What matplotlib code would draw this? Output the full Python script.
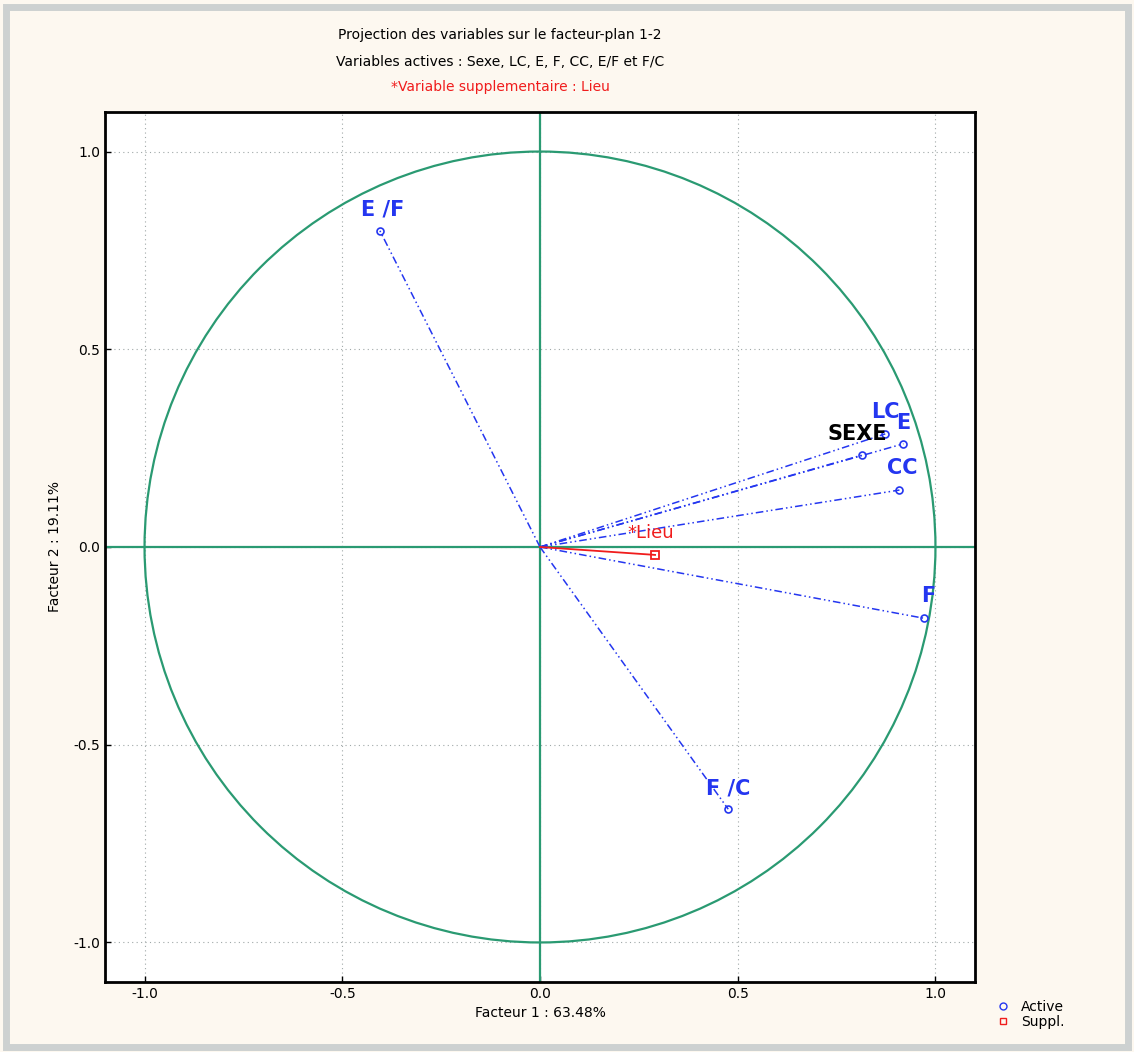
import numpy as np
import matplotlib.pyplot as plt
from matplotlib.patches import Circle, Rectangle

# Coordinates of the variables on factors 1 and 2
names = ['E /F', 'LC', 'E', 'SEXE', 'CC', 'F', 'F /C']
f1 = [-0.405, 0.873, 0.919, 0.813, 0.909, 0.970, 0.476]
f2 = [0.800, 0.286, 0.261, 0.232, 0.144, -0.180, -0.663]
colors = ['#2436f0', '#2436f0', '#2436f0', 'black', '#2436f0', '#2436f0', '#2436f0']
# label offsets in points
offsets = [(2, 15), (0, 16), (0, 15), (-3, 15), (2, 16), (3, 16), (0, 15)]

# Supplementary variable
supp_name = 'Lieu'
supp_f1 = [0.291]
supp_f2 = [-0.020]

blue = '#2436f0'
red = '#f01c1c'
green = '#2a9a72'

fig = plt.figure(figsize=(11.34, 10.52), dpi=100)
fig.patch.set_facecolor('#fdf8f0')
fig.patches.append(Rectangle((0.005, 0.005), 0.99, 0.988, transform=fig.transFigure,
                             fill=False, edgecolor='#cdd1d1', linewidth=5))

ax = fig.add_axes([105 / 1134, 1 - 982 / 1052, 870 / 1134, 870 / 1052])
ax.set_facecolor('white')
ax.set_xlim(-1.1, 1.1)
ax.set_ylim(-1.1, 1.1)

ticks = [-1.0, -0.5, 0.0, 0.5, 1.0]
ax.set_xticks(ticks)
ax.set_yticks(ticks)
ax.set_xticklabels(['%.1f' % t for t in ticks], fontsize=10)
ax.set_yticklabels(['%.1f' % t for t in ticks], fontsize=10)
ax.tick_params(direction='in', length=4, width=1)
ax.grid(True, color='#a0a8a8', linestyle=(0, (1, 3)), linewidth=0.8)
for s in ax.spines.values():
    s.set_linewidth(2)

# unit circle and axes lines
ax.add_patch(Circle((0, 0), 1.0, fill=False, edgecolor=green, linewidth=1.6, zorder=2))
ax.axhline(0, color=green, linewidth=1.6, zorder=2)
ax.axvline(0, color=green, linewidth=1.6, zorder=2)

# active variables
for n, x, y, c, off in zip(names, f1, f2, colors, offsets):
    ax.plot([0, x], [0, y], color=blue, linewidth=1.1, linestyle=(0, (5, 2, 1, 2, 1, 2)), zorder=3)
    ax.plot(x, y, marker='o', markersize=5, markerfacecolor='none', markeredgecolor=blue,
            markeredgewidth=1.2, linestyle='none', zorder=4)
    ax.annotate(n, (x, y), xytext=off, textcoords='offset points', ha='center', va='center',
                fontsize=15, fontweight='bold', color=c, zorder=5)

# supplementary variable
ax.plot([0, supp_f1[0]], [0, supp_f2[0]], color=red, linewidth=1.3, zorder=3)
ax.plot(supp_f1, supp_f2, marker='s', markersize=6, markerfacecolor='none', markeredgecolor=red,
        markeredgewidth=1.3, linestyle='none', zorder=4)
ax.annotate('*' + supp_name, (supp_f1[0], supp_f2[0]), xytext=(-3, 16), textcoords='offset points',
            ha='center', va='center', fontsize=13, color=red, zorder=5)

ax.set_xlabel('Facteur 1 : 63.48%', fontsize=10, labelpad=4)
ax.set_ylabel('Facteur 2 : 19.11%', fontsize=10, labelpad=8)

fig.text(0.441, 1 - 35 / 1052, 'Projection des variables sur le facteur-plan 1-2',
         ha='center', va='center', fontsize=10)
fig.text(0.441, 1 - 62 / 1052, 'Variables actives : Sexe, LC, E, F, CC, E/F et F/C',
         ha='center', va='center', fontsize=10)
fig.text(0.441, 1 - 87 / 1052, '*Variable supplementaire : Lieu',
         ha='center', va='center', fontsize=10, color=red)

# legend outside
ax.plot([], [], marker='o', markersize=5, markerfacecolor='none', markeredgecolor=blue,
        linestyle='none', label='Active')
ax.plot([], [], marker='s', markersize=5, markerfacecolor='none', markeredgecolor=red,
        linestyle='none', label='Suppl.')
ax.legend(loc='lower left', bbox_to_anchor=(1.01, -0.06), frameon=False, fontsize=10,
          handletextpad=0.3, labelspacing=0.05, borderaxespad=0)

fig.savefig('out.png', dpi=100, facecolor=fig.get_facecolor())
